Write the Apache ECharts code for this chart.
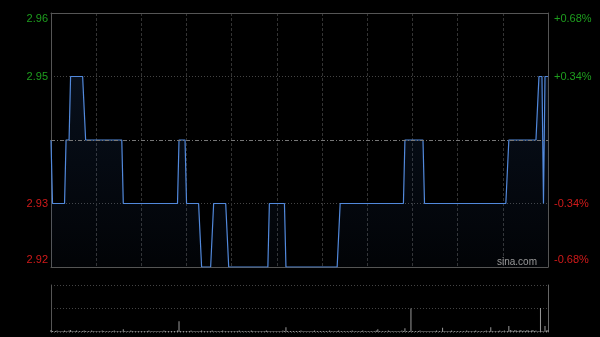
<!DOCTYPE html>
<html>
<head>
<meta charset="utf-8">
<script src="https://cdn.jsdelivr.net/npm/echarts@6/dist/echarts.min.js"></script>
<style>html,body{margin:0;padding:0;background:#000;}#c{width:600px;height:337px;}</style>
</head>
<body>
<div id="c"></div>
<script>
// Reference price (previous close)
const prevClose = 2.94;
const yMin = 2.92, yMax = 2.96, yStep = 0.01;

// Minute time labels (HK session 09:30-12:00, 13:01-16:00)
const times = [];
for (let h = 9, m = 30; !(h === 12 && m === 1); ) { times.push(String(h).padStart(2,'0') + ':' + String(m).padStart(2,'0')); m++; if (m === 60) { m = 0; h++; } }
for (let h = 13, m = 1; !(h === 16 && m === 1); ) { times.push(String(h).padStart(2,'0') + ':' + String(m).padStart(2,'0')); m++; if (m === 60) { m = 0; h++; } }

// Price per minute
const price = [
2.94,2.93,2.93,2.93,2.93,2.93,2.93,2.93,2.93,2.93,
2.94,2.94,2.94,2.95,2.95,2.95,2.95,2.95,2.95,2.95,
2.95,2.95,2.95,2.94,2.94,2.94,2.94,2.94,2.94,2.94,
2.94,2.94,2.94,2.94,2.94,2.94,2.94,2.94,2.94,2.94,
2.94,2.94,2.94,2.94,2.94,2.94,2.94,2.94,2.93,2.93,
2.93,2.93,2.93,2.93,2.93,2.93,2.93,2.93,2.93,2.93,
2.93,2.93,2.93,2.93,2.93,2.93,2.93,2.93,2.93,2.93,
2.93,2.93,2.93,2.93,2.93,2.93,2.93,2.93,2.93,2.93,
2.93,2.93,2.93,2.93,2.93,2.94,2.94,2.94,2.94,2.94,
2.93,2.93,2.93,2.93,2.93,2.93,2.93,2.93,2.93,2.93,
2.92,2.92,2.92,2.92,2.92,2.92,2.92,2.92,2.93,2.93,
2.93,2.93,2.93,2.93,2.93,2.93,2.93,2.93,2.92,2.92,
2.92,2.92,2.92,2.92,2.92,2.92,2.92,2.92,2.92,2.92,
2.92,2.92,2.92,2.92,2.92,2.92,2.92,2.92,2.92,2.92,
2.92,2.92,2.92,2.92,2.92,2.93,2.93,2.93,2.93,2.93,
2.93,2.93,2.93,2.93,2.93,2.93,2.92,2.92,2.92,2.92,
2.92,2.92,2.92,2.92,2.92,2.92,2.92,2.92,2.92,2.92,
2.92,2.92,2.92,2.92,2.92,2.92,2.92,2.92,2.92,2.92,
2.92,2.92,2.92,2.92,2.92,2.92,2.92,2.92,2.92,2.92,
2.92,2.92,2.93,2.93,2.93,2.93,2.93,2.93,2.93,2.93,
2.93,2.93,2.93,2.93,2.93,2.93,2.93,2.93,2.93,2.93,
2.93,2.93,2.93,2.93,2.93,2.93,2.93,2.93,2.93,2.93,
2.93,2.93,2.93,2.93,2.93,2.93,2.93,2.93,2.93,2.93,
2.93,2.93,2.93,2.93,2.93,2.94,2.94,2.94,2.94,2.94,
2.94,2.94,2.94,2.94,2.94,2.94,2.94,2.94,2.93,2.93,
2.93,2.93,2.93,2.93,2.93,2.93,2.93,2.93,2.93,2.93,
2.93,2.93,2.93,2.93,2.93,2.93,2.93,2.93,2.93,2.93,
2.93,2.93,2.93,2.93,2.93,2.93,2.93,2.93,2.93,2.93,
2.93,2.93,2.93,2.93,2.93,2.93,2.93,2.93,2.93,2.93,
2.93,2.93,2.93,2.93,2.93,2.93,2.93,2.93,2.93,2.93,
2.93,2.93,2.93,2.93,2.94,2.94,2.94,2.94,2.94,2.94,
2.94,2.94,2.94,2.94,2.94,2.94,2.94,2.94,2.94,2.94,
2.94,2.94,2.94,2.94,2.95,2.95,2.95,2.93,2.95,2.95,
2.95
];

// Volume per minute (relative)
const volume = [
4,2,1,2,3,1,2,1,2,3, 2,1,3,4,2,1,2,3,1,2, 1,2,3,2,1,2,1,3,2,1,
2,1,2,1,3,2,1,2,1,2, 1,2,3,1,2,1,2,1,6,2, 1,2,1,3,2,1,2,1,2,1,
2,1,2,1,2,3,1,2,1,2, 1,2,1,2,1,3,2,1,2,1, 2,1,2,1,3,23,2,1,2,1,
2,1,2,3,1,2,1,2,1,2, 3,1,2,1,2,1,2,3,1,2, 1,2,1,2,3,1,2,1,2,1,
2,1,2,1,2,3,1,2,1,2, 1,2,1,3,2,1,2,1,2,1, 2,1,2,3,2,1,2,1,2,1,
2,1,2,1,3,2,10,2,1,2, 1,2,1,2,1,2,3,1,2,1, 2,1,2,1,2,3,1,2,1,2,
1,2,1,2,1,3,2,1,2,1, 2,3,1,2,1,2,1,2,1,2, 3,1,2,1,2,1,2,3,1,2,
1,2,1,2,1,2,3,6,2,1, 2,1,2,1,3,2,1,2,1,2, 1,2,1,3,2,8,2,1,2,50,
2,1,2,1,2,3,1,2,1,2, 1,2,1,2,1,2,3,1,2,1, 9,2,1,2,1,2,3,1,2,1,
2,1,2,1,2,1,3,2,1,2, 1,2,3,1,2,1,2,1,2,3, 1,2,10,2,1,2,1,2,3,1,
2,3,1,2,13,4,3,2,4,3, 2,3,4,2,3,2,4,3,2,3, 4,2,3,1,2,51,2,1,13,3,
4
];

const GREEN = '#1e9e1e', RED = '#d21a1a';
const near = (a, b) => Math.abs(a - b) < 1e-6;

function leftFmt(v) {
  if (near(v, prevClose)) return '';
  const c = v > prevClose ? 'g' : 'r';
  const p = near(v, yMax) ? 'T' : (near(v, yMin) ? 'B' : '');
  return '{' + c + p + '|' + v.toFixed(2) + '}';
}
function rightFmt(v) {
  if (near(v, prevClose)) return '';
  const pct = (v - prevClose) / prevClose * 100;
  const c = v > prevClose ? 'g' : 'r';
  const p = near(v, yMax) ? 'T' : (near(v, yMin) ? 'B' : '');
  return '{' + c + p + '|' + (pct > 0 ? '+' : '-') + Math.abs(pct).toFixed(2) + '%}';
}
const rich = {
  g: { color: GREEN, fontSize: 11, fontFamily: 'Liberation Sans, Arial' },
  r: { color: RED, fontSize: 11, fontFamily: 'Liberation Sans, Arial' },
  gT: { color: GREEN, fontSize: 11, fontFamily: 'Liberation Sans, Arial', padding: [12, 0, 0, 0] },
  rB: { color: RED, fontSize: 11, fontFamily: 'Liberation Sans, Arial', padding: [0, 0, 14, 0] }
};

const chart = echarts.init(document.getElementById('c'), null, { renderer: 'canvas' });
chart.setOption({
  backgroundColor: '#000',
  animation: false,
  title: {
    text: 'sina.com', right: 58, top: 252,
    textStyle: { color: '#999', fontSize: 10, fontWeight: 'normal', fontFamily: 'Liberation Sans, Arial' }
  },
  grid: [
    { left: 51, right: 52, top: 13, bottom: 70 },
    { left: 51, right: 52, top: 285, bottom: 5 }
  ],
  xAxis: [
    { type: 'category', gridIndex: 0, data: times, boundaryGap: false,
      axisLine: { show: true, lineStyle: { color: '#555' } },
      axisTick: { show: false }, axisLabel: { show: false },
      splitLine: { show: true, interval: (i) => i > 0 && i < times.length - 1 && i % 30 === 0,
        lineStyle: { color: '#333', type: [3, 2], width: 1 } } },
    { type: 'category', gridIndex: 0, data: times, boundaryGap: false, position: 'top',
      axisLine: { show: true, lineStyle: { color: '#555' } },
      axisTick: { show: false }, axisLabel: { show: false }, splitLine: { show: false } },
    { type: 'category', gridIndex: 1, data: times, boundaryGap: false,
      axisLine: { show: false }, axisTick: { show: false }, axisLabel: { show: false }, splitLine: { show: false } }
  ],
  yAxis: [
    { type: 'value', gridIndex: 0, min: yMin, max: yMax, interval: yStep,
      axisLine: { show: true, lineStyle: { color: '#555' } }, axisTick: { show: false },
      axisLabel: { formatter: leftFmt, rich: rich, margin: 3 },
      splitLine: { show: true, lineStyle: { color: '#444', type: [1, 2] } } },
    { type: 'value', gridIndex: 0, min: yMin, max: yMax, interval: yStep, position: 'right',
      axisLine: { show: true, lineStyle: { color: '#555' } }, axisTick: { show: false },
      axisLabel: { formatter: rightFmt, rich: rich, margin: 6 },
      splitLine: { show: false } },
    { type: 'value', gridIndex: 1, min: 0, max: 100, interval: 50,
      axisLine: { show: true, lineStyle: { color: '#555' } }, axisTick: { show: false }, axisLabel: { show: false },
      splitLine: { show: true, lineStyle: { color: '#444', type: [1, 2] } } },
    { type: 'value', gridIndex: 1, min: 0, max: 100, interval: 50, position: 'right',
      axisLine: { show: true, lineStyle: { color: '#666' } }, axisTick: { show: false }, axisLabel: { show: false },
      splitLine: { show: false } }
  ],
  series: [
    { type: 'line', xAxisIndex: 0, yAxisIndex: 0, data: price, showSymbol: false, silent: true,
      lineStyle: { color: '#5289dc', width: 1.2 },
      areaStyle: { color: new echarts.graphic.LinearGradient(0, 0, 0, 1, [
        { offset: 0, color: 'rgba(50,100,180,0.22)' }, { offset: 1, color: 'rgba(50,100,180,0.05)' }]) },
      markLine: { silent: true, symbol: 'none', label: { show: false },
        lineStyle: { color: '#777', type: [4, 2, 1, 2], width: 1 },
        data: [{ yAxis: prevClose }] } },
    { type: 'bar', xAxisIndex: 2, yAxisIndex: 2, data: volume, barWidth: 1, silent: true,
      itemStyle: { color: '#999' } }
  ]
});
</script>
</body>
</html>
